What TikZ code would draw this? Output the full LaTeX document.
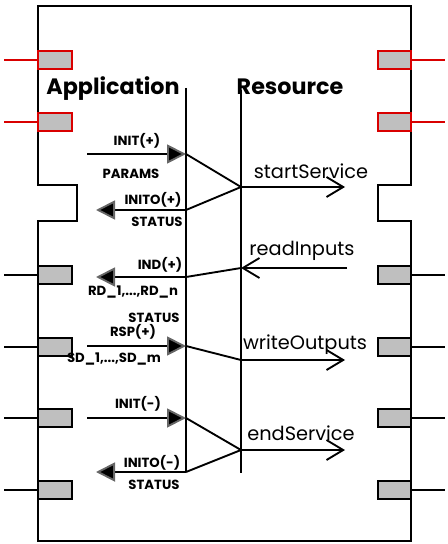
\documentclass[tikz,border=0pt]{standalone}
\usepackage{fontspec}
\setmainfont{Poppins}
\usetikzlibrary{arrows.meta}

\tikzset{
 port/.style={draw=black, fill=black!25, line width=1.5pt, minimum width=1.0cm, minimum height=0.52cm, inner sep=0pt},
 rport/.style={port, draw=red!85!black},
 bus/.style={line width=1.6pt},
 tri/.style={line width=1.6pt, -{Triangle[length=0.57cm,width=0.57cm,fill=black,color=black!60,line width=1.6pt]}},
 barb/.style={line width=1.6pt, -{Straight Barb[length=0.5cm,width=0.6cm,line width=1.6pt]}},
 sig/.style={font=\bfseries\fontsize{11.3}{11.3}\selectfont, inner sep=0pt},
 svc/.style={font=\fontsize{16.5}{16.5}\selectfont, inner sep=0pt},
 side/.style={font=\bfseries\fontsize{19}{19}\selectfont, inner sep=0pt, anchor=base}
}

\begin{document}
\begin{tikzpicture}[x=0.03cm,y=-0.03cm]
\useasboundingbox (0,0) rectangle (447,544);
\draw[line width=2pt] (38,6) -- (411,6) -- (411,185) -- (378,185) -- (378,221) -- (411,221) -- (411,541) -- (38,541) -- (38,221) -- (77,221) -- (77,185) -- (38,185) -- cycle;
\foreach \y [count=\i] in {60,122}{
  \node[rport] (lp\i) at (55,\y){};
  \node[rport] (rp\i) at (394.5,\y){};
  \coordinate (lx\i) at (4,\y);
  \coordinate (rx\i) at (445,\y);
  \draw[bus, red!85!black] (lx\i) -- (lp\i.west);
  \draw[bus, red!85!black] (rp\i.east) -- (rx\i);
}
\foreach \y [count=\i] in {275,347,418,490}{
  \node[port] (lq\i) at (55,\y){};
  \node[port] (rq\i) at (394.5,\y){};
  \coordinate (ly\i) at (4,\y);
  \coordinate (ry\i) at (445,\y);
  \draw[bus] (ly\i) -- (lq\i.west);
  \draw[bus] (rq\i.east) -- (ry\i);
}
\node[side] (app) at (113,95){Application};
\node[side] (res) at (290,95){Resource};
\coordinate (at) at (186,88);
\coordinate (ab) at (186,472);
\coordinate (rt) at (241,90);
\coordinate (rb) at (241,473);
\draw[bus] (at) -- (ab);
\draw[bus] (rt) -- (rb);
\coordinate (i1a) at (87,154);
\coordinate (i1b) at (186,154);
\coordinate (s1) at (241,187);
\coordinate (s1e) at (345,187);
\coordinate (o1a) at (186,210);
\coordinate (o1b) at (96,210);
\draw[tri] (i1a) -- (i1b);
\draw[bus] (i1b) -- (s1) -- (o1a);
\draw[barb] (s1) -- (s1e);
\draw[tri] (o1a) -- (o1b);
\coordinate (r2a) at (347,268);
\coordinate (s2) at (241,268);
\coordinate (o2a) at (186,277);
\coordinate (o2b) at (96,277);
\draw[barb] (r2a) -- (s2);
\draw[bus] (s2) -- (o2a);
\draw[tri] (o2a) -- (o2b);
\coordinate (i3a) at (87,346);
\coordinate (i3b) at (186,346);
\coordinate (s3) at (241,360);
\coordinate (s3e) at (345,360);
\draw[tri] (i3a) -- (i3b);
\draw[bus] (i3b) -- (s3);
\draw[barb] (s3) -- (s3e);
\coordinate (i4a) at (87,418);
\coordinate (i4b) at (186,418);
\coordinate (s4) at (241,450);
\coordinate (s4e) at (345,450);
\coordinate (o4b) at (96,472);
\draw[tri] (i4a) -- (i4b);
\draw[bus] (i4b) -- (s4) -- (ab);
\draw[barb] (s4) -- (s4e);
\draw[tri] (ab) -- (o4b);
\node[sig] (init1) at (137,141){INIT(+)};
\node[sig] (params) at (131,174){PARAMS};
\node[sig] (inito1) at (153,200){INITO(+)};
\node[sig] (stat1) at (157,222){STATUS};
\node[sig] (ind) at (160,265){IND(+)};
\node[sig] (rd) at (133,292){RD\_1,...,RD\_n};
\node[sig] (stat2) at (154,318){STATUS};
\node[sig] (rsp) at (133,332){RSP(+)};
\node[sig] (sd) at (114,359){SD\_1,...,SD\_m};
\node[sig] (init2) at (138,404){INIT(-)};
\node[sig] (inito2) at (152,463){INITO(-)};
\node[sig] (stat3) at (154,485){STATUS};
\node[svc] (start) at (311,171){startService};
\node[svc] (read) at (302,251){readInputs};
\node[svc] (write) at (305,345){writeOutputs};
\node[svc] (endsvc) at (301,433){endService};
\end{tikzpicture}
\end{document}
